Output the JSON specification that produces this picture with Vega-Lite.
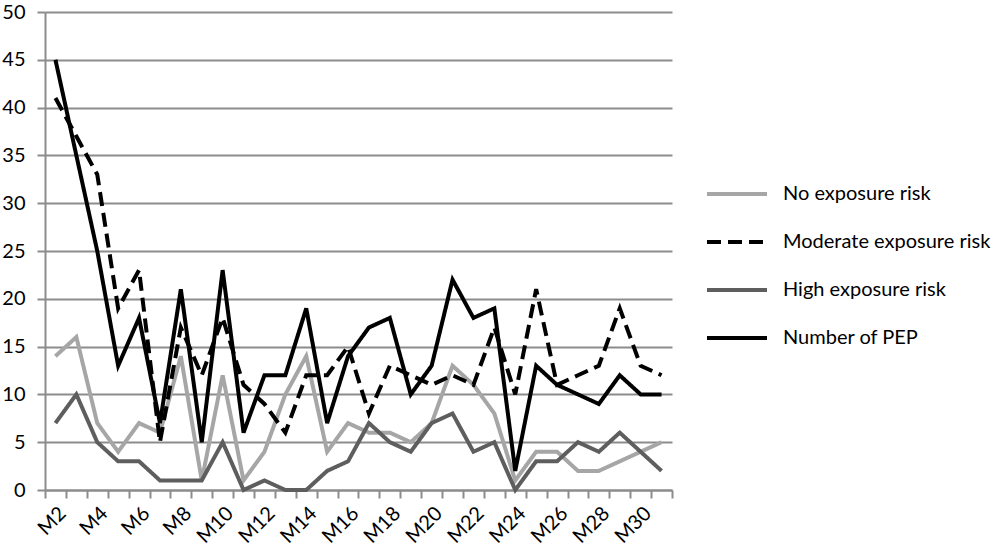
{
  "$schema": "https://vega.github.io/schema/vega-lite/v6.json",
  "autosize": {"type": "none"},
  "padding": {"left": 45, "top": 12, "right": 333, "bottom": 60},
  "width": 627,
  "height": 478,
  "background": "white",
  "config": {
    "view": {"stroke": null},
    "font": "Lato",
    "axis": {
      "labelFont": "Lato", "labelFontSize": 20, "labelColor": "#000000",
      "domainColor": "#8c8c8c", "domainWidth": 2,
      "tickColor": "#8c8c8c", "tickWidth": 2, "tickSize": 8,
      "gridColor": "#8c8c8c", "gridWidth": 2,
      "title": null
    }
  },
  "data": {"values": [
    {"m":"M2","s":"No exposure risk","v":14},{"m":"M3","s":"No exposure risk","v":16},{"m":"M4","s":"No exposure risk","v":7},{"m":"M5","s":"No exposure risk","v":4},{"m":"M6","s":"No exposure risk","v":7},{"m":"M7","s":"No exposure risk","v":6},{"m":"M8","s":"No exposure risk","v":14},{"m":"M9","s":"No exposure risk","v":1},{"m":"M10","s":"No exposure risk","v":12},{"m":"M11","s":"No exposure risk","v":1},{"m":"M12","s":"No exposure risk","v":4},{"m":"M13","s":"No exposure risk","v":10},{"m":"M14","s":"No exposure risk","v":14},{"m":"M15","s":"No exposure risk","v":4},{"m":"M16","s":"No exposure risk","v":7},{"m":"M17","s":"No exposure risk","v":6},{"m":"M18","s":"No exposure risk","v":6},{"m":"M19","s":"No exposure risk","v":5},{"m":"M20","s":"No exposure risk","v":7},{"m":"M21","s":"No exposure risk","v":13},{"m":"M22","s":"No exposure risk","v":11},{"m":"M23","s":"No exposure risk","v":8},{"m":"M24","s":"No exposure risk","v":1},{"m":"M25","s":"No exposure risk","v":4},{"m":"M26","s":"No exposure risk","v":4},{"m":"M27","s":"No exposure risk","v":2},{"m":"M28","s":"No exposure risk","v":2},{"m":"M29","s":"No exposure risk","v":3},{"m":"M30","s":"No exposure risk","v":4},{"m":"M31","s":"No exposure risk","v":5},
    {"m":"M2","s":"Moderate exposure risk","v":41},{"m":"M3","s":"Moderate exposure risk","v":37},{"m":"M4","s":"Moderate exposure risk","v":33},{"m":"M5","s":"Moderate exposure risk","v":19},{"m":"M6","s":"Moderate exposure risk","v":23},{"m":"M7","s":"Moderate exposure risk","v":5},{"m":"M8","s":"Moderate exposure risk","v":17},{"m":"M9","s":"Moderate exposure risk","v":12},{"m":"M10","s":"Moderate exposure risk","v":18},{"m":"M11","s":"Moderate exposure risk","v":11},{"m":"M12","s":"Moderate exposure risk","v":9},{"m":"M13","s":"Moderate exposure risk","v":6},{"m":"M14","s":"Moderate exposure risk","v":12},{"m":"M15","s":"Moderate exposure risk","v":12},{"m":"M16","s":"Moderate exposure risk","v":15},{"m":"M17","s":"Moderate exposure risk","v":8},{"m":"M18","s":"Moderate exposure risk","v":13},{"m":"M19","s":"Moderate exposure risk","v":12},{"m":"M20","s":"Moderate exposure risk","v":11},{"m":"M21","s":"Moderate exposure risk","v":12},{"m":"M22","s":"Moderate exposure risk","v":11},{"m":"M23","s":"Moderate exposure risk","v":17},{"m":"M24","s":"Moderate exposure risk","v":10},{"m":"M25","s":"Moderate exposure risk","v":21},{"m":"M26","s":"Moderate exposure risk","v":11},{"m":"M27","s":"Moderate exposure risk","v":12},{"m":"M28","s":"Moderate exposure risk","v":13},{"m":"M29","s":"Moderate exposure risk","v":19},{"m":"M30","s":"Moderate exposure risk","v":13},{"m":"M31","s":"Moderate exposure risk","v":12},
    {"m":"M2","s":"High exposure risk","v":7},{"m":"M3","s":"High exposure risk","v":10},{"m":"M4","s":"High exposure risk","v":5},{"m":"M5","s":"High exposure risk","v":3},{"m":"M6","s":"High exposure risk","v":3},{"m":"M7","s":"High exposure risk","v":1},{"m":"M8","s":"High exposure risk","v":1},{"m":"M9","s":"High exposure risk","v":1},{"m":"M10","s":"High exposure risk","v":5},{"m":"M11","s":"High exposure risk","v":0},{"m":"M12","s":"High exposure risk","v":1},{"m":"M13","s":"High exposure risk","v":0},{"m":"M14","s":"High exposure risk","v":0},{"m":"M15","s":"High exposure risk","v":2},{"m":"M16","s":"High exposure risk","v":3},{"m":"M17","s":"High exposure risk","v":7},{"m":"M18","s":"High exposure risk","v":5},{"m":"M19","s":"High exposure risk","v":4},{"m":"M20","s":"High exposure risk","v":7},{"m":"M21","s":"High exposure risk","v":8},{"m":"M22","s":"High exposure risk","v":4},{"m":"M23","s":"High exposure risk","v":5},{"m":"M24","s":"High exposure risk","v":0},{"m":"M25","s":"High exposure risk","v":3},{"m":"M26","s":"High exposure risk","v":3},{"m":"M27","s":"High exposure risk","v":5},{"m":"M28","s":"High exposure risk","v":4},{"m":"M29","s":"High exposure risk","v":6},{"m":"M30","s":"High exposure risk","v":4},{"m":"M31","s":"High exposure risk","v":2},
    {"m":"M2","s":"Number of PEP","v":45},{"m":"M3","s":"Number of PEP","v":35},{"m":"M4","s":"Number of PEP","v":25},{"m":"M5","s":"Number of PEP","v":13},{"m":"M6","s":"Number of PEP","v":18},{"m":"M7","s":"Number of PEP","v":7},{"m":"M8","s":"Number of PEP","v":21},{"m":"M9","s":"Number of PEP","v":5},{"m":"M10","s":"Number of PEP","v":23},{"m":"M11","s":"Number of PEP","v":6},{"m":"M12","s":"Number of PEP","v":12},{"m":"M13","s":"Number of PEP","v":12},{"m":"M14","s":"Number of PEP","v":19},{"m":"M15","s":"Number of PEP","v":7},{"m":"M16","s":"Number of PEP","v":14},{"m":"M17","s":"Number of PEP","v":17},{"m":"M18","s":"Number of PEP","v":18},{"m":"M19","s":"Number of PEP","v":10},{"m":"M20","s":"Number of PEP","v":13},{"m":"M21","s":"Number of PEP","v":22},{"m":"M22","s":"Number of PEP","v":18},{"m":"M23","s":"Number of PEP","v":19},{"m":"M24","s":"Number of PEP","v":2},{"m":"M25","s":"Number of PEP","v":13},{"m":"M26","s":"Number of PEP","v":11},{"m":"M27","s":"Number of PEP","v":10},{"m":"M28","s":"Number of PEP","v":9},{"m":"M29","s":"Number of PEP","v":12},{"m":"M30","s":"Number of PEP","v":10},{"m":"M31","s":"Number of PEP","v":10}
  ]},
  "mark": {"type": "line", "strokeWidth": 4, "strokeJoin": "miter"},
  "encoding": {
    "x": {
      "field": "m", "type": "ordinal", "sort": null,
      "scale": {"type": "band", "paddingInner": 0, "paddingOuter": 0},
      "axis": {
        "grid": false, "tickBand": "extent", "labelAngle": -45,
        "labelAlign": "right", "labelBaseline": "top", "labelPadding": 5,
        "labelExpr": "parseInt(substring(datum.value,1)) % 2 == 0 ? datum.value : ''"
      }
    },
    "y": {
      "field": "v", "type": "quantitative",
      "scale": {"domain": [0, 50], "nice": false},
      "axis": {"values": [0,5,10,15,20,25,30,35,40,45,50], "grid": true, "labelPadding": 12}
    },
    "color": {
      "field": "s", "type": "nominal",
      "sort": ["No exposure risk","Moderate exposure risk","High exposure risk","Number of PEP"],
      "scale": {"domain": ["No exposure risk","Moderate exposure risk","High exposure risk","Number of PEP"], "range": ["#a6a6a6","#000000","#5e5e5e","#000000"]},
      "legend": {
        "title": null, "orient": "none", "legendX": 660, "legendY": 150,
        "symbolType": "stroke", "symbolStrokeWidth": 4, "symbolSize": 3600,
        "labelFont": "Lato", "labelFontSize": 20, "labelColor": "#000000", "labelOffset": 14,
        "labelLimit": 400, "rowPadding": 6
      }
    },
    "strokeDash": {
      "field": "s", "type": "nominal",
      "sort": ["No exposure risk","Moderate exposure risk","High exposure risk","Number of PEP"],
      "scale": {"domain": ["No exposure risk","Moderate exposure risk","High exposure risk","Number of PEP"], "range": [[1,0],[14,7],[1,0],[1,0]]},
      "legend": null
    }
  }
}
